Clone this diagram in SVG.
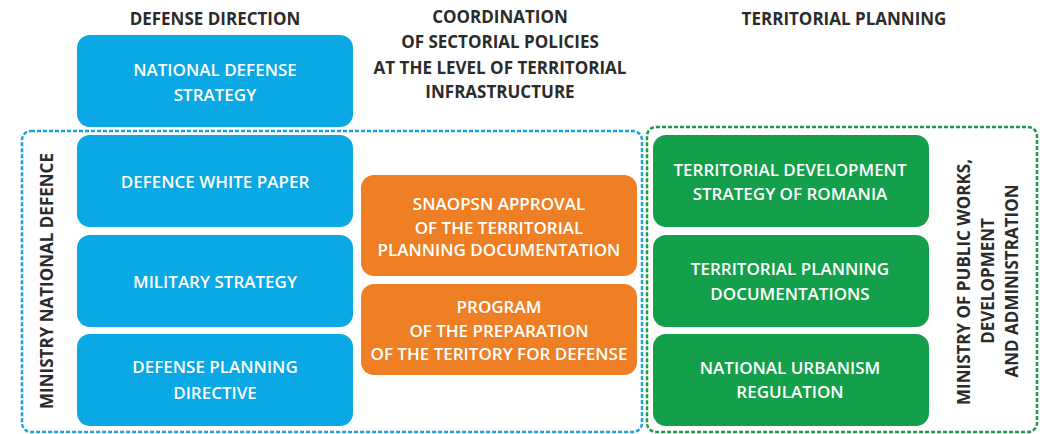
<svg xmlns="http://www.w3.org/2000/svg" width="1047" height="434" viewBox="0 0 1047 434">
  <style>
    .hdr { font-family: "Open Sans", "Noto Sans", sans-serif; font-weight: 700; font-size: 17px; fill: #2b2b2b; text-anchor: middle; }
    .lbl { font-family: "Open Sans", "Noto Sans", sans-serif; font-weight: 600; font-size: 17px; fill: #ffffff; text-anchor: middle; }
    .side { font-family: "Open Sans", "Noto Sans", sans-serif; font-weight: 700; font-size: 17px; fill: #2b2b2b; text-anchor: middle; }
    .blue { fill: #0aa8e4; }
    .orange { fill: #ef7f24; }
    .green { fill: #14a04b; }
    .frame { fill: none; stroke-width: 2.5; stroke-dasharray: 4 2; }
  </style>
  <rect width="1047" height="434" fill="#ffffff"/>

  <!-- column headers -->
  <g id="headers">
    <text class="hdr" x="215" y="25">DEFENSE DIRECTION</text>
    <text class="hdr" x="500" y="23">COORDINATION</text>
    <text class="hdr" x="500" y="48">OF SECTORIAL POLICIES</text>
    <text class="hdr" x="500" y="74">AT THE LEVEL OF TERRITORIAL</text>
    <text class="hdr" x="500" y="98">INFRASTRUCTURE</text>
    <text class="hdr" x="844" y="25">TERRITORIAL PLANNING</text>
  </g>

  <!-- ministry frames -->
  <g id="frames">
    <rect class="frame" x="22" y="131" width="620" height="301" rx="9" stroke="#1aa3e0"/>
    <rect class="frame" x="647" y="127" width="390" height="305" rx="9" stroke="#1f9a48"/>
  </g>

  <g id="ministry-defence">
    <text class="side" transform="translate(53 281) rotate(-90)">MINISTRY NATIONAL DEFENCE</text>
  </g>
  <g id="ministry-public-works">
    <text class="side" transform="translate(970 282) rotate(-90)">MINISTRY OF PUBLIC WORKS,</text>
    <text class="side" transform="translate(994 281) rotate(-90)">DEVELOPMENT</text>
    <text class="side" transform="translate(1018 281) rotate(-90)">AND ADMINISTRATION</text>
  </g>

  <!-- defense direction column -->
  <g id="national-defense-strategy">
    <rect class="blue" x="77" y="35" width="276" height="92" rx="13"/>
    <text class="lbl" x="215" y="76">NATIONAL DEFENSE</text>
    <text class="lbl" x="215" y="101">STRATEGY</text>
  </g>
  <g id="defence-white-paper">
    <rect class="blue" x="77" y="135" width="276" height="92" rx="13"/>
    <text class="lbl" x="215" y="188">DEFENCE WHITE PAPER</text>
  </g>
  <g id="military-strategy">
    <rect class="blue" x="77" y="235" width="276" height="92" rx="13"/>
    <text class="lbl" x="215" y="288">MILITARY STRATEGY</text>
  </g>
  <g id="defense-planning-directive">
    <rect class="blue" x="77" y="334" width="276" height="92" rx="13"/>
    <text class="lbl" x="215" y="373">DEFENSE PLANNING</text>
    <text class="lbl" x="215" y="399">DIRECTIVE</text>
  </g>

  <!-- coordination column -->
  <g id="snaopsn-approval">
    <rect class="orange" x="361" y="175" width="276" height="101" rx="13"/>
    <text class="lbl" x="499" y="210">SNAOPSN APPROVAL</text>
    <text class="lbl" x="499" y="234">OF THE TERRITORIAL</text>
    <text class="lbl" x="499" y="256">PLANNING DOCUMENTATION</text>
  </g>
  <g id="preparation-program">
    <rect class="orange" x="361" y="284" width="276" height="91" rx="13"/>
    <text class="lbl" x="499" y="313">PROGRAM</text>
    <text class="lbl" x="499" y="337">OF THE PREPARATION</text>
    <text class="lbl" x="499" y="360">OF THE TERITORY FOR DEFENSE</text>
  </g>

  <!-- territorial planning column -->
  <g id="territorial-development-strategy">
    <rect class="green" x="653" y="135" width="276" height="92" rx="13"/>
    <text class="lbl" x="790" y="176">TERRITORIAL DEVELOPMENT</text>
    <text class="lbl" x="790" y="200">STRATEGY OF ROMANIA</text>
  </g>
  <g id="territorial-planning-documentations">
    <rect class="green" x="653" y="235" width="276" height="92" rx="13"/>
    <text class="lbl" x="790" y="275">TERRITORIAL PLANNING</text>
    <text class="lbl" x="790" y="300">DOCUMENTATIONS</text>
  </g>
  <g id="national-urbanism-regulation">
    <rect class="green" x="653" y="334" width="276" height="92" rx="13"/>
    <text class="lbl" x="790" y="374">NATIONAL URBANISM</text>
    <text class="lbl" x="790" y="398">REGULATION</text>
  </g>

  <!-- connectors: none drawn between nodes -->
  <g id="connectors"></g>
</svg>
